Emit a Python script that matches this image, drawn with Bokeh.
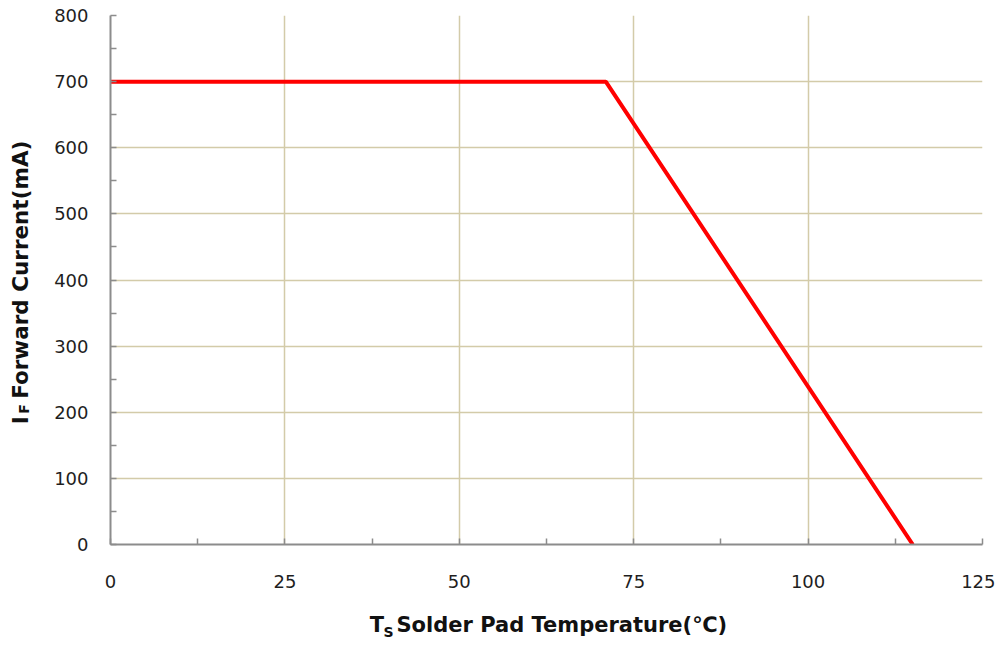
from bokeh.plotting import figure
from bokeh.models import Range1d, FixedTicker, LinearAxis
from bokeh.embed import file_html
from bokeh.resources import INLINE

# Data
temps = [0, 71, 115]
current = [700, 700, 0]
x_ticks = [0, 25, 50, 75, 100, 125]
x_minor = [12.5, 37.5, 62.5, 87.5, 112.5]
y_ticks = [0, 100, 200, 300, 400, 500, 600, 700, 800]
y_minor = [50, 150, 250, 350, 450, 550, 650, 750]
x_title = ["T", "S", "Solder Pad Temperature(℃)"]
y_title = ["I", "F", "Forward Current(mA)"]

p = figure(width=995, height=644, output_backend="svg", toolbar_location=None,
           x_range=Range1d(0, 125), y_range=Range1d(0, 800),
           min_border_left=110, min_border_right=13, min_border_top=15, min_border_bottom=100)
p.outline_line_color = None
p.background_fill_color = "white"
p.border_fill_color = "white"

p.line(temps, current, line_color="#ff0000", line_width=4)

grid_color = "#d3cba9"
p.xgrid.ticker = FixedTicker(ticks=x_ticks)
p.ygrid.ticker = FixedTicker(ticks=y_ticks)
for g in (p.xgrid, p.ygrid):
    g.grid_line_color = grid_color
    g.grid_line_width = 1.5

tick_font = "DejaVu Sans"
for ax, tk, mn in ((p.xaxis, x_ticks, x_minor), (p.yaxis, y_ticks, y_minor)):
    ax.ticker = FixedTicker(ticks=tk, minor_ticks=mn)
    ax.axis_line_color = "#8c8c8c"
    ax.axis_line_width = 2
    ax.major_tick_line_color = "#8c8c8c"
    ax.minor_tick_line_color = "#8c8c8c"
    ax.major_tick_line_width = 1.5
    ax.minor_tick_line_width = 1.5
    ax.major_tick_in = 6
    ax.major_tick_out = 0
    ax.minor_tick_in = 6
    ax.minor_tick_out = 0
    ax.major_label_text_font = tick_font
    ax.major_label_text_font_size = "18px"
    ax.major_label_text_color = "#1e1e1e"
    ax.axis_label = None
p.xaxis.major_label_standoff = 30
p.yaxis.major_label_standoff = 22

# Axis titles drawn as label-only axes (pieces placed at data positions)
def title_axis(side, positions, texts, size, standoff):
    ax = LinearAxis(ticker=FixedTicker(ticks=positions, minor_ticks=[]),
                    major_label_overrides={pos: t for pos, t in zip(positions, texts)},
                    axis_line_color=None, major_tick_line_color=None,
                    minor_tick_line_color=None, major_tick_in=0, major_tick_out=0,
                    minor_tick_in=0, minor_tick_out=0,
                    major_label_standoff=standoff,
                    major_label_text_font="DejaVu Sans",
                    major_label_text_font_style="bold",
                    major_label_text_font_size=size,
                    major_label_text_color="#111111")
    if side == "left":
        ax.major_label_orientation = "parallel"
    p.add_layout(ax, side)
    return ax

# x title: main pieces then subscript
title_axis("below", [38.2, 64.7], [x_title[0], x_title[2]], "21px", 22)
title_axis("below", [39.85], [x_title[1]], "14px", -16)
# y title
title_axis("left", [188.0, 415.5], [y_title[0], y_title[2]], "21.5px", 18)
title_axis("left", [205.0], [y_title[1]], "14px", -27)

open("out.html", "w").write(file_html(p, INLINE))
